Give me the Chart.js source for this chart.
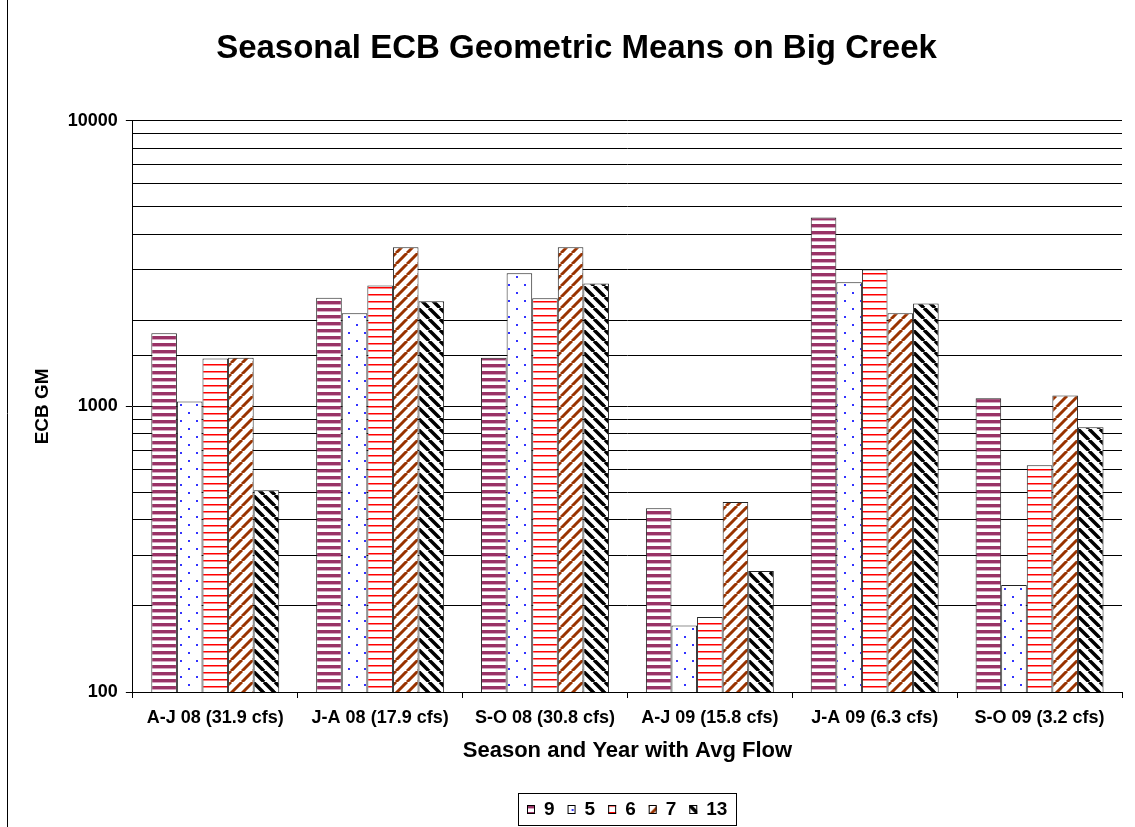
<!DOCTYPE html>
<html>
<head>
<meta charset="utf-8">
<script src="https://cdn.jsdelivr.net/npm/chart.js@4.4.0/dist/chart.umd.min.js"></script>
<style>
  body { margin: 0; background: #fff; }
  #wrap { position: relative; width: 1135px; height: 827px; }
</style>
</head>
<body>
<div id="wrap"><canvas id="myChart" width="1135" height="827"></canvas></div>
<script>
var categories = ["A-J 08 (31.9 cfs)", "J-A 08 (17.9 cfs)", "S-O 08 (30.8 cfs)", "A-J 09 (15.8 cfs)", "J-A 09 (6.3 cfs)", "S-O 09 (3.2 cfs)"];
var seriesNames = ["9", "5", "6", "7", "13"];
var site9  = [1800, 2400, 1480, 440, 4580, 1066];
var site5  = [1040, 2115, 2920, 171, 2715, 237];
var site6  = [1470, 2650, 2390, 183, 3010, 622];
var site7  = [1480, 3600, 3600, 462, 2115, 1092];
var site13 = [508, 2330, 2690, 265, 2290, 845];
var yTicks = [100, 1000, 10000];

// little canvases used as fill patterns
function makePattern(kind) {
  var c = document.createElement('canvas');
  var g = c.getContext('2d');
  if (kind == 'hstripe') {
    c.width = 8; c.height = 7;
    g.fillStyle = '#fff'; g.fillRect(0, 0, 8, 7);
    g.fillStyle = '#993366'; g.fillRect(0, 0, 8, 3);
    g.fillStyle = '#d9a6c2'; g.fillRect(0, 3, 8, 1);
  } else if (kind == 'dots') {
    c.width = 16; c.height = 16;
    g.fillStyle = '#fff'; g.fillRect(0, 0, 16, 16);
    g.fillStyle = '#3333ff';
    g.fillRect(4, 4, 2, 2);
    g.fillRect(12, 12, 2, 2);
  } else if (kind == 'redline') {
    c.width = 8; c.height = 7;
    g.fillStyle = '#fff'; g.fillRect(0, 0, 8, 7);
    g.fillStyle = '#ff0000'; g.fillRect(0, 0, 8, 1);
    g.fillStyle = '#ff8080'; g.fillRect(0, 1, 8, 1);
  } else if (kind == 'updiag' || kind == 'downdiag') {
    c.width = 11; c.height = 11;
    g.fillStyle = '#fff'; g.fillRect(0, 0, 11, 11);
    g.strokeStyle = kind == 'updiag' ? '#993300' : '#000';
    g.lineWidth = kind == 'updiag' ? 3 : 3.5;
    for (var o = -11; o <= 11; o += 11) {
      g.beginPath();
      if (kind == 'updiag') { g.moveTo(o, 11); g.lineTo(o + 11, 0); }
      else { g.moveTo(o, 0); g.lineTo(o + 11, 11); }
      g.stroke();
    }
  }
  return g.createPattern(c, 'repeat');
}

var font = "'Liberation Sans', Arial, sans-serif";

// excel style legend in a box under the chart, plus the left frame line
var excelLegend = {
  id: 'excelLegend',
  afterDraw: function(chart) {
    var ctx = chart.ctx;
    var sets = chart.data.datasets;
    var box = 8, gap = 9, itemGap = 13, side = 9;
    ctx.save();
    ctx.font = 'bold 19px ' + font;
    var total = side * 2;
    sets.forEach(function(d, i) {
      total += box + gap + ctx.measureText(d.label).width + (i < sets.length - 1 ? itemGap : 0);
    });
    total = Math.round(total);
    var left = Math.round(chart.chartArea.left + (chart.chartArea.right - chart.chartArea.left - total) / 2);
    var top = 793, h = 32, cy = top + h / 2;
    ctx.strokeStyle = '#000';
    ctx.lineWidth = 1;
    ctx.strokeRect(left + 0.5, top + 0.5, total, h);
    var x = left + side;
    ctx.textBaseline = 'middle';
    sets.forEach(function(d) {
      var by = Math.round(cy - 4);
      ctx.save();
      ctx.translate(x, by);
      ctx.fillStyle = d.backgroundColor;
      ctx.fillRect(0, 0, box, box + 1);
      ctx.strokeRect(0.5, 0.5, box - 1, box);
      ctx.restore();
      x += box + gap;
      ctx.fillStyle = '#000';
      ctx.fillText(d.label, x, cy + 1);
      x += ctx.measureText(d.label).width + itemGap;
    });
    ctx.beginPath();
    ctx.moveTo(7.5, 0); ctx.lineTo(7.5, chart.height);
    ctx.stroke();
    ctx.restore();
  }
};

var ctx = document.getElementById('myChart').getContext('2d');
var chart = new Chart(ctx, {
  type: 'bar',
  data: {
    labels: categories,
    datasets: [
      { label: seriesNames[0], data: site9,  backgroundColor: makePattern('hstripe') },
      { label: seriesNames[1], data: site5,  backgroundColor: makePattern('dots') },
      { label: seriesNames[2], data: site6,  backgroundColor: makePattern('redline') },
      { label: seriesNames[3], data: site7,  backgroundColor: makePattern('updiag') },
      { label: seriesNames[4], data: site13, backgroundColor: makePattern('downdiag') }
    ].map(function(d) {
      d.borderColor = '#222';
      d.borderWidth = 1;
      d.categoryPercentage = 0.776;
      d.barPercentage = 1.0;
      return d;
    })
  },
  options: {
    responsive: false,
    animation: false,
    layout: { padding: { left: 31, right: 13, top: 0, bottom: 63 } },
    plugins: {
      title: {
        display: true,
        text: 'Seasonal ECB Geometric Means on Big Creek',
        color: '#000',
        font: { family: font, size: 33, weight: 'bold' },
        padding: { top: 29, bottom: 52 }
      },
      legend: { display: false },
      tooltip: { enabled: false }
    },
    scales: {
      x: {
        grid: { offset: true, drawOnChartArea: false, color: '#000', tickLength: 6 },
        border: { color: '#000', width: 1 },
        ticks: { color: '#000', font: { family: font, size: 18, weight: 'bold' }, maxRotation: 0, padding: 9 },
        title: {
          display: true, text: 'Season and Year with Avg Flow', color: '#000',
          font: { family: font, size: 22, weight: 'bold' }, padding: { top: 0, bottom: 0 }
        }
      },
      y: {
        type: 'logarithmic',
        min: 100, max: 10000,
        grid: {
          color: '#000', lineWidth: 1, tickLength: 7,
          tickColor: function(c) { return c.tick && yTicks.indexOf(c.tick.value) >= 0 ? '#000' : 'rgba(0,0,0,0)'; }
        },
        border: { color: '#000', width: 1 },
        ticks: {
          autoSkip: false,
          color: '#000',
          font: { family: font, size: 18, weight: 'bold' },
          padding: 8,
          callback: function(v) { return yTicks.indexOf(v) >= 0 ? String(v) : ''; }
        },
        title: {
          display: true, text: 'ECB GM', color: '#000',
          font: { family: font, size: 19, weight: 'bold' }, padding: { top: 0, bottom: 6 }
        }
      }
    }
  },
  plugins: [excelLegend]
});
</script>
</body>
</html>
